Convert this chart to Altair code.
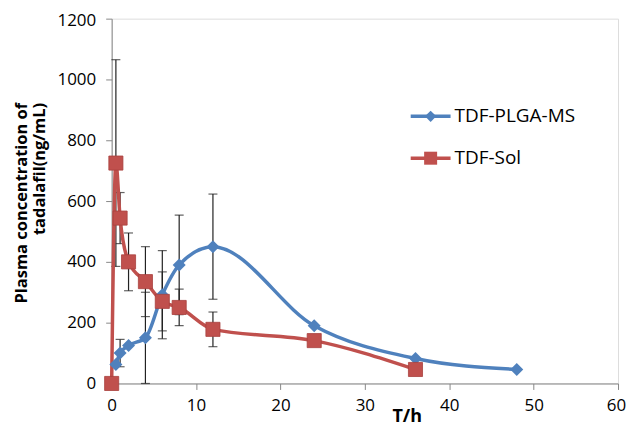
import altair as alt
import pandas as pd

# ---- data ----
t_ms = [0.5, 1, 2, 4, 6, 8, 12, 24, 36, 48]
c_ms = [62, 100, 125, 150, 292, 390, 450, 190, 82, 46]
sd_ms = [0, 45, 0, 150, 145, 164, 173, 0, 0, 0]

t_sol = [0, 0.5, 1, 2, 4, 6, 8, 12, 24, 36]
c_sol = [0, 725, 544, 400, 335, 270, 250, 178, 141, 46]
sd_sol = [0, 340, 84, 95, 115, 97, 60, 57, 0, 0]

series_names = ["TDF-PLGA-MS", "TDF-Sol"]
series_colors = ["#4F81BD", "#C0504D"]
x_ticks = [0, 10, 20, 30, 40, 50, 60]
y_ticks = [0, 200, 400, 600, 800, 1000, 1200]

FONT = "Open Sans"

ms = pd.DataFrame({"t": t_ms, "c": c_ms, "sd": sd_ms, "s": series_names[0]})
sol = pd.DataFrame({"t": t_sol, "c": c_sol, "sd": sd_sol, "s": series_names[1]})
df = pd.concat([ms, sol], ignore_index=True)
df["lo"] = df["c"] - df["sd"]
df["hi"] = df["c"] + df["sd"]
err = df[df["sd"] > 0]

xs = alt.Scale(domain=[0, 60], nice=False)
ys = alt.Scale(domain=[0, 1200], nice=False)

X = alt.X("t:Q", scale=xs, axis=alt.Axis(
    values=x_ticks, format="d", title="T/h", grid=False,
    titleX=296, titleY=33, titleAlign="center", titleBaseline="middle",
    titleFontSize=18, titleFontWeight="bold", titleFont=FONT, titleColor="#000",
    labelFontSize=17, labelFont=FONT, labelColor="#000", labelPadding=8,
    labelOffset={"condition": {"test": "datum.value == 60", "value": -2}, "value": 0},
    tickSize=6, tickColor="#888", domainColor="#888", labelFlush=False))
Y = alt.Y("c:Q", scale=ys, axis=alt.Axis(
    values=y_ticks, format="d", title=["Plasma concentration of", "tadalafil(ng/mL)"], grid=False,
    titleAngle=270, titleX=-98, titleY=84, titleAlign="right", titleBaseline="top",
    titleFontSize=16.5, titleFontWeight="bold", titleFont=FONT, titleColor="#000",
    titleLineHeight=18,
    labelFontSize=17, labelFont=FONT, labelColor="#000", labelPadding=10,
    labelOffset={"condition": {"test": "datum.value == 1200", "value": 2}, "value": 0},
    tickSize=6, tickColor="#888", domainColor="#888", labelFlush=False))

color = alt.Color("s:N", scale=alt.Scale(domain=series_names, range=series_colors), legend=None)

base = alt.Chart(df)

bars = alt.Chart(err).mark_rule(color="#222", strokeWidth=1.2).encode(
    x=alt.X("t:Q", scale=xs), y=alt.Y("lo:Q", scale=ys), y2="hi:Q")
caps_lo = alt.Chart(err).mark_tick(color="#222", orient="horizontal", size=9, thickness=1.2).encode(
    x=alt.X("t:Q", scale=xs), y=alt.Y("lo:Q", scale=ys))
caps_hi = alt.Chart(err).mark_tick(color="#222", orient="horizontal", size=9, thickness=1.2).encode(
    x=alt.X("t:Q", scale=xs), y=alt.Y("hi:Q", scale=ys))

lines = base.mark_line(interpolate="monotone", strokeWidth=3.5).encode(x=X, y=Y, color=color, detail="s:N")

pts_ms = alt.Chart(ms).mark_point(shape="diamond", filled=True, size=170, opacity=1,
                                  color=series_colors[0]).encode(x=alt.X("t:Q", scale=xs), y=alt.Y("c:Q", scale=ys))
pts_sol = alt.Chart(sol).mark_point(shape="square", filled=True, size=200, opacity=1,
                                    color=series_colors[1], stroke="#a8403d", strokeWidth=0.8).encode(
    x=alt.X("t:Q", scale=xs), y=alt.Y("c:Q", scale=ys))

# ---- custom legend ----
one = alt.Data(values=[{}])
leg = []
leg_y = [98, 140]
shapes = ["diamond", "square"]
sizes = [130, 170]
for i in range(2):
    leg.append(alt.Chart(one).mark_rule(color=series_colors[i], strokeWidth=3.5).encode(
        x=alt.value(300), x2=alt.value(340), y=alt.value(leg_y[i])))
    leg.append(alt.Chart(one).mark_point(shape=shapes[i], filled=True, size=sizes[i], opacity=1,
                                         color=series_colors[i]).encode(
        x=alt.value(320), y=alt.value(leg_y[i])))
    leg.append(alt.Chart(one).mark_text(text=series_names[i], align="left", baseline="middle",
                                        font=FONT, fontSize=19, color="#000").encode(
        x=alt.value(344), y=alt.value(leg_y[i])))

chart = alt.layer(bars, caps_lo, caps_hi, lines, pts_ms, pts_sol, *leg).properties(
    width=508, height=366,
    padding={"left": 104, "top": 10, "right": 8, "bottom": 44},
    autosize=alt.AutoSizeParams(type="none"),
).configure_view(stroke=None).configure(background="white")

chart.save("out.html", embed_options={"renderer": "svg", "actions": False})
